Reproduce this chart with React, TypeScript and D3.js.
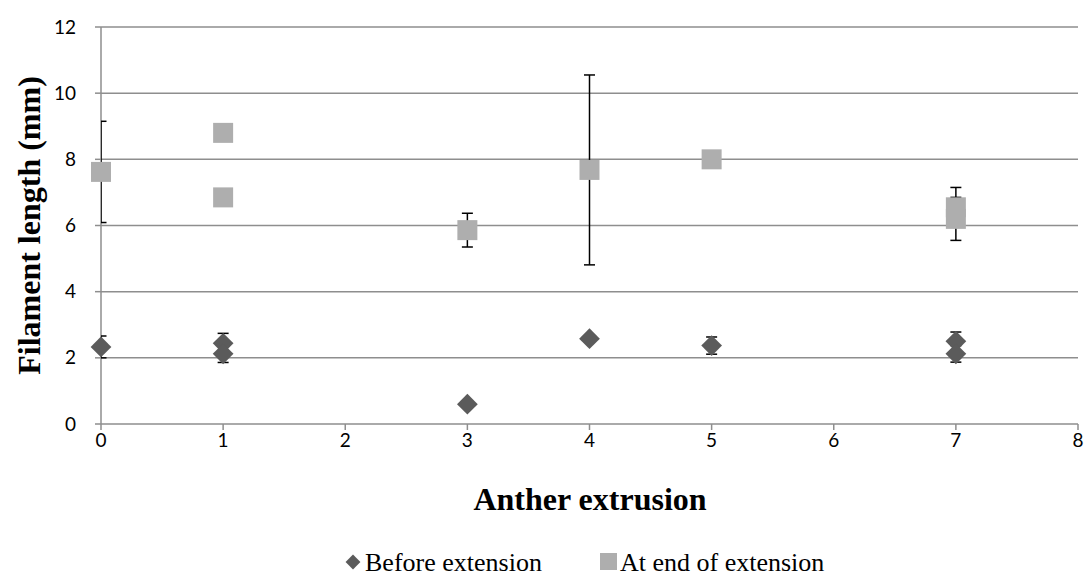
import React from "react";
import * as d3 from "d3";

// anther extrusion score (x) vs filament length (mm)
const beforeX = [0, 1, 1, 3, 4, 5, 7, 7];
const beforeY = [2.33, 2.44, 2.12, 0.6, 2.58, 2.37, 2.5, 2.12];
const beforeErr = [0.33, 0.3, 0.26, 0, 0, 0.26, 0.28, 0.25];

const afterX = [0, 1, 1, 3, 4, 5, 7, 7];
const afterY = [7.62, 8.8, 6.85, 5.86, 7.68, 8.0, 6.55, 6.2];
const afterErr = [1.53, 0, 0, 0.51, 2.87, 0, 0.6, 0.65];

const xTicks = [0, 1, 2, 3, 4, 5, 6, 7, 8];
const yTicks = [0, 2, 4, 6, 8, 10, 12];

const W = 1088, H = 583;
const left = 101, right = 1078, top = 27, bottom = 424;

const diamondCol = "#5b5b5b";
const squareCol = "#aeaeae";
const gridCol = "#8e8e8e";
const serif = "'Liberation Serif', 'Times New Roman', serif";

export default function App() {
  const x = d3.scaleLinear().domain([0, 8]).range([left, right]);
  const y = d3.scaleLinear().domain([0, 12]).range([bottom, top]);

  const diamond = d3.symbol(d3.symbolSquare, 215)()!;
  const square = d3.symbol(d3.symbolSquare, 400)()!;

  const errBars = (xs: number[], ys: number[], es: number[], key: string) =>
    xs.map((xv, i) => {
      if (!es[i]) return null;
      const cx = x(xv), y1 = y(ys[i] + es[i]), y2 = y(ys[i] - es[i]);
      return (
        <g key={key + i} stroke="#000" strokeWidth={1.5}>
          <line x1={cx} x2={cx} y1={y1} y2={y2} />
          <line x1={cx - 5.5} x2={cx + 5.5} y1={y1} y2={y1} />
          <line x1={cx - 5.5} x2={cx + 5.5} y1={y2} y2={y2} />
        </g>
      );
    });

  return (
    <svg width={W} height={H} style={{ position: "absolute", left: 0, top: 0, background: "#fff" }}>
      <defs>
        <clipPath id="plot">
          <rect x={left} y={0} width={right - left} height={bottom + 2} />
        </clipPath>
      </defs>

      {/* gridlines */}
      {yTicks.filter(t => t > 0).map(t => (
        <line key={"g" + t} x1={left} x2={right} y1={y(t)} y2={y(t)} stroke={gridCol} strokeWidth={1.5} />
      ))}

      {/* axes */}
      <line x1={left} x2={left} y1={top} y2={bottom} stroke={gridCol} strokeWidth={1.5} />
      <line x1={left} x2={right} y1={bottom} y2={bottom} stroke={gridCol} strokeWidth={1.5} />
      {xTicks.map(t => (
        <line key={"xt" + t} x1={x(t)} x2={x(t)} y1={bottom} y2={bottom + 6} stroke={gridCol} strokeWidth={1.5} />
      ))}
      {yTicks.map(t => (
        <line key={"yt" + t} x1={left - 6} x2={left} y1={y(t)} y2={y(t)} stroke={gridCol} strokeWidth={1.5} />
      ))}

      {/* tick labels */}
      <g fontFamily="Lato, 'Open Sans', sans-serif" fontSize={19} fill="#000">
        {yTicks.map(t => (
          <text key={"yl" + t} x={left - 25} y={y(t)} dy="0.35em" textAnchor="end">{t}</text>
        ))}
        {xTicks.map(t => (
          <text key={"xl" + t} x={x(t)} y={bottom + 23} textAnchor="middle">{t}</text>
        ))}
      </g>

      {/* error bars (clipped to plot), then markers */}
      <g clipPath="url(#plot)">
        {errBars(beforeX, beforeY, beforeErr, "be")}
        {errBars(afterX, afterY, afterErr, "ae")}
      </g>
      {beforeX.map((xv, i) => (
        <path key={"d" + i} d={diamond} transform={`translate(${x(xv)},${y(beforeY[i])}) rotate(45)`} fill={diamondCol} />
      ))}
      {afterX.map((xv, i) => (
        <path key={"s" + i} d={square} transform={`translate(${x(xv)},${y(afterY[i])})`} fill={squareCol} />
      ))}

      {/* axis titles */}
      <text x={590} y={510} textAnchor="middle" fontFamily={serif} fontWeight="bold" fontSize={32}>Anther extrusion</text>
      <text transform={`translate(40,${(top + bottom) / 2}) rotate(-90)`} textAnchor="middle"
        fontFamily={serif} fontWeight="bold" fontSize={32}>Filament length (mm)</text>

      {/* legend */}
      <g fontFamily={serif} fontSize={26}>
        <path d={d3.symbol(d3.symbolSquare, 110)()!} transform="translate(353,562) rotate(45)" fill={diamondCol} />
        <text x={365} y={571}>Before extension</text>
        <rect x={600} y={553} width={17} height={17} fill={squareCol} />
        <text x={620} y={571}>At end of extension</text>
      </g>
    </svg>
  );
}
